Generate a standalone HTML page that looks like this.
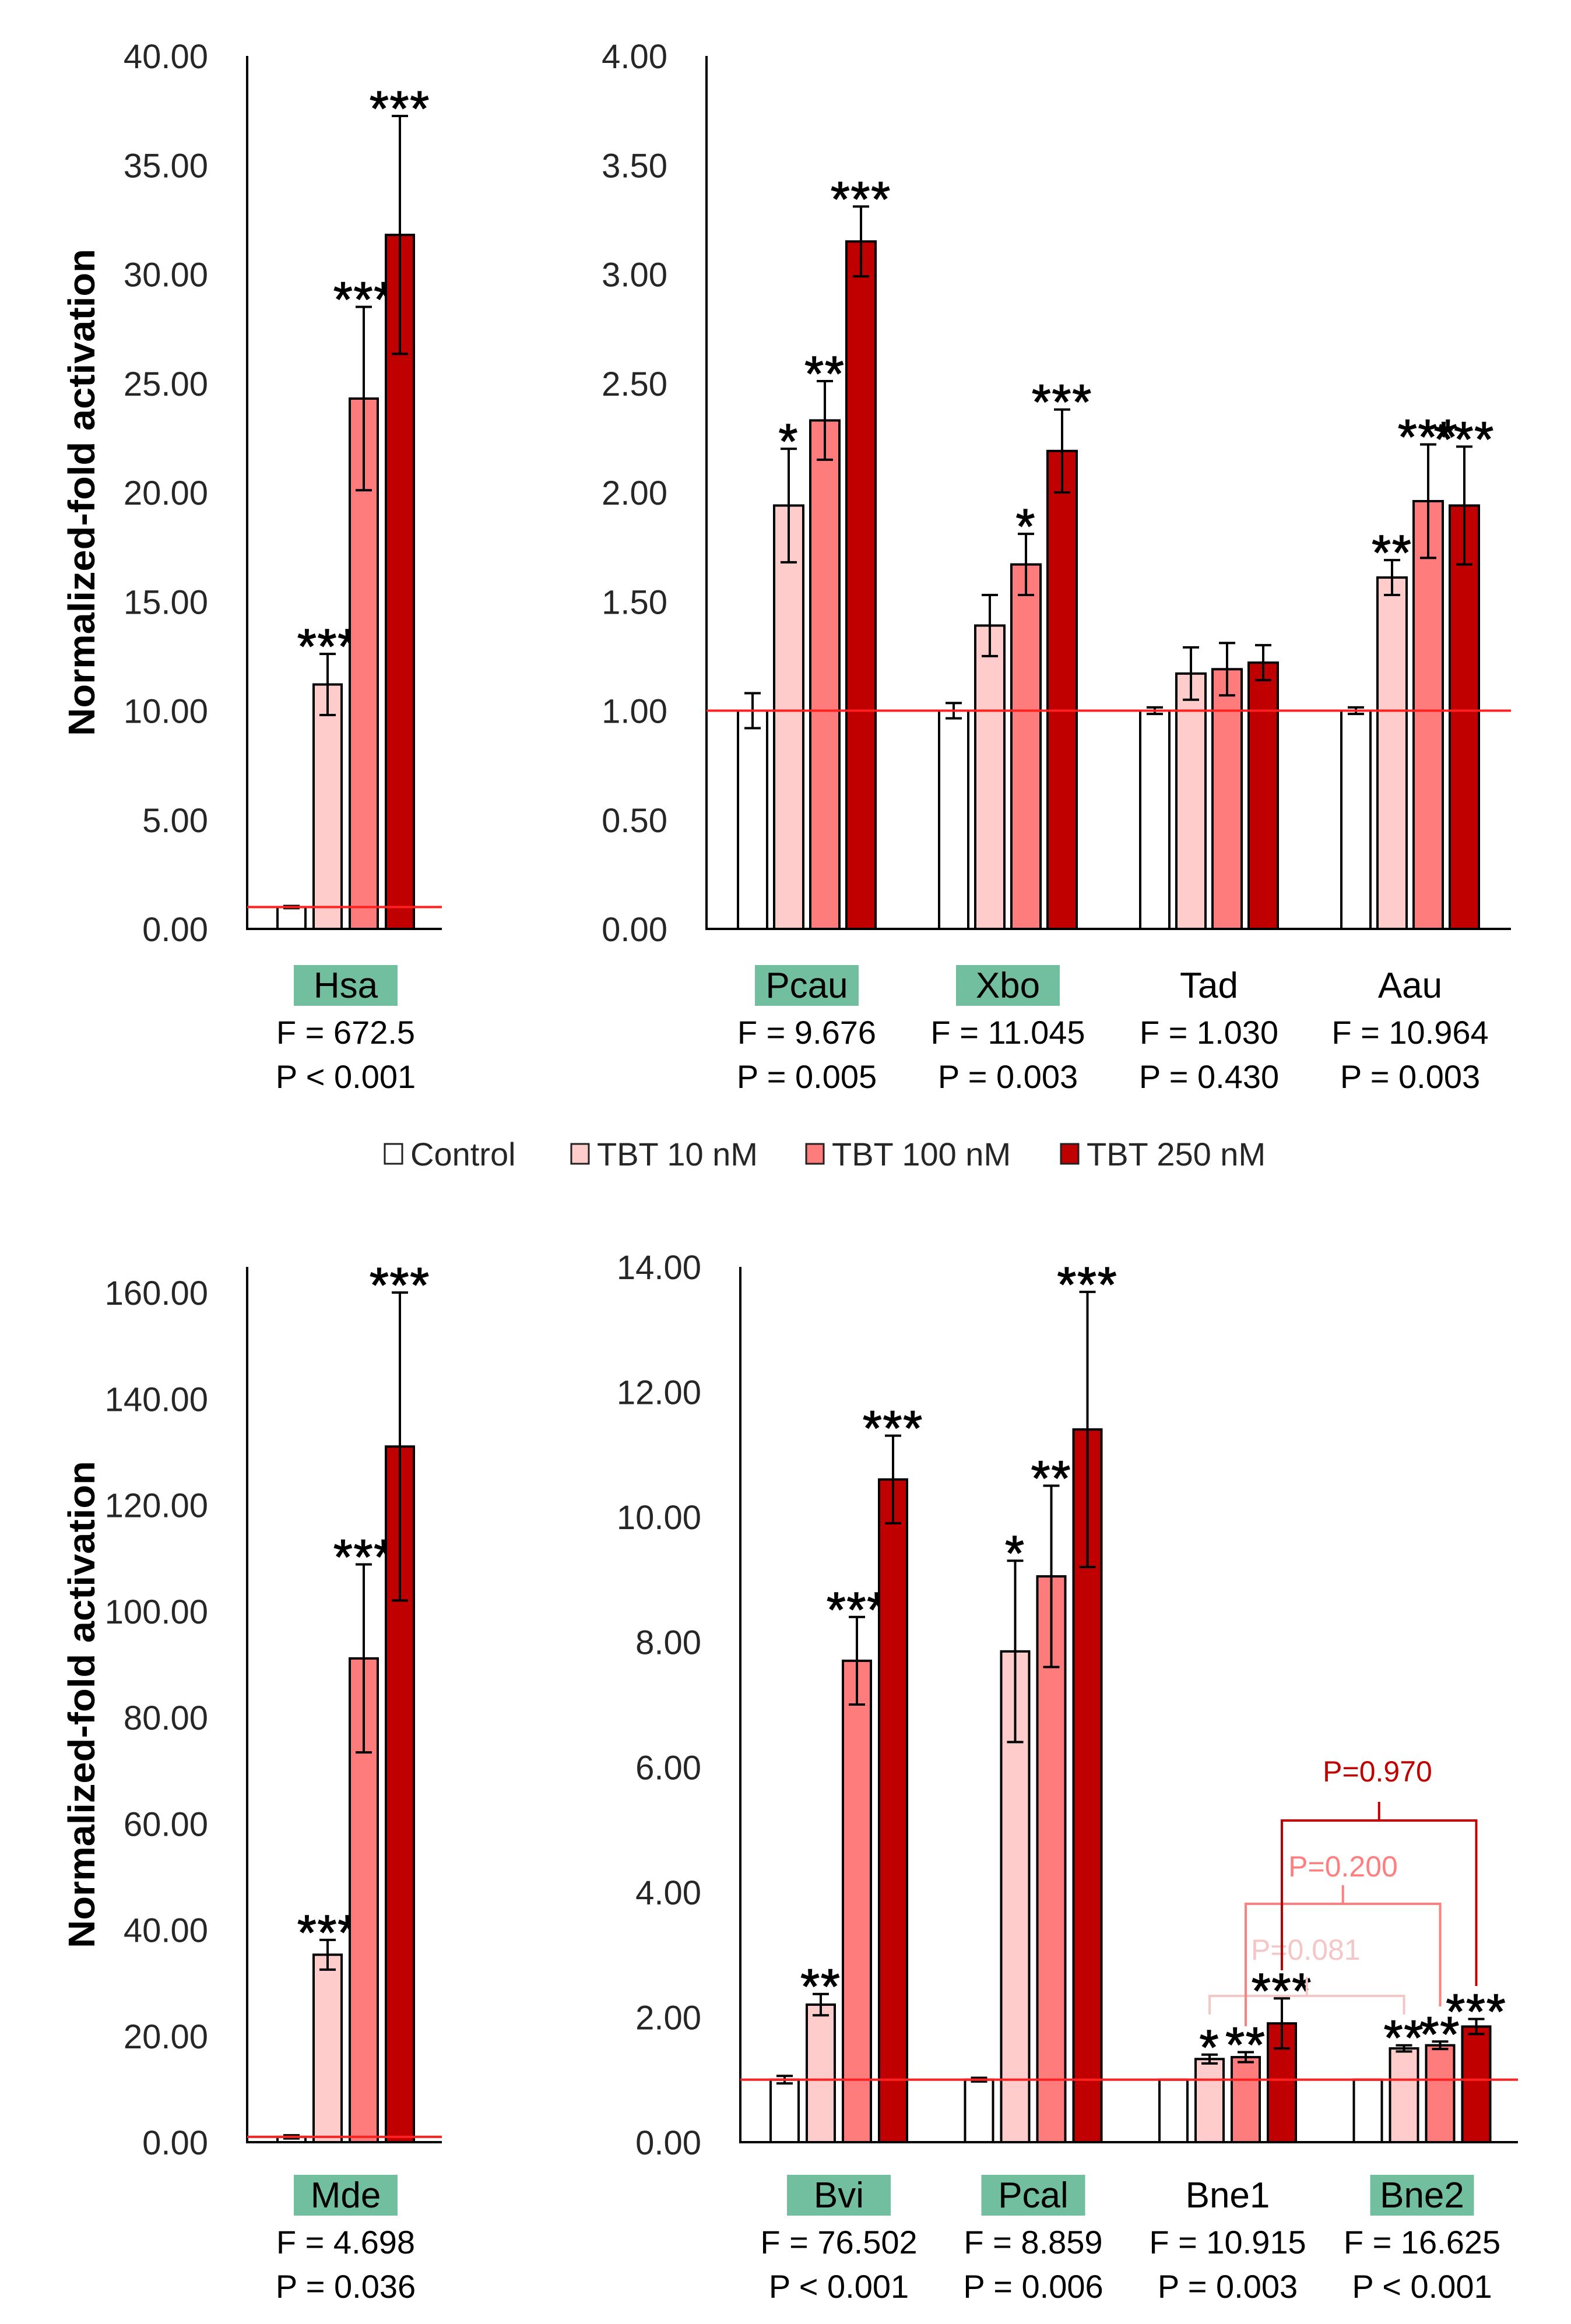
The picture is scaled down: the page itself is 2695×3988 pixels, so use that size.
<!DOCTYPE html>
<html><head><meta charset="utf-8">
<style>
html,body{margin:0;padding:0;background:#fff;}
svg{display:block;font-family:"Liberation Sans",sans-serif;}
</style></head>
<body>
<svg id="fig" xmlns="http://www.w3.org/2000/svg" width="2695" height="3988" viewBox="0 0 2695 3988"></svg>
<script>
// ---- data ----
const tlCategories = ['Hsa'];
const tlControl = [1.0];
const tlTBT10 = [11.2];
const tlTBT100 = [24.3];
const tlTBT250 = [31.8];
const tlErrControl = [0.05];
const tlErr10 = [1.4];
const tlErr100 = [4.2];
const tlErr250 = [5.45];
const tlStars = [['', '***', '***', '***']];
const tlF = ['F = 672.5'];
const tlP = ['P < 0.001'];
const tlHighlight = [true];
const tlTicks = ['0.00','5.00','10.00','15.00','20.00','25.00','30.00','35.00','40.00'];

const trCategories = ['Pcau','Xbo','Tad','Aau'];
const trControl = [1.0, 1.0, 1.0, 1.0];
const trTBT10 = [1.94, 1.39, 1.17, 1.61];
const trTBT100 = [2.33, 1.67, 1.19, 1.96];
const trTBT250 = [3.15, 2.19, 1.22, 1.94];
const trErrControl = [0.08, 0.035, 0.015, 0.015];
const trErr10 = [0.26, 0.14, 0.12, 0.08];
const trErr100 = [0.18, 0.14, 0.12, 0.26];
const trErr250 = [0.16, 0.19, 0.08, 0.27];
const trStars = [['','*','**','***'],['','','*','***'],['','','',''],['','**','***','***']];
const trF = ['F = 9.676','F = 11.045','F = 1.030','F = 10.964'];
const trP = ['P = 0.005','P = 0.003','P = 0.430','P = 0.003'];
const trHighlight = [true, true, false, false];
const trTicks = ['0.00','0.50','1.00','1.50','2.00','2.50','3.00','3.50','4.00'];

const blCategories = ['Mde'];
const blControl = [1.0];
const blTBT10 = [35.3];
const blTBT100 = [91.1];
const blTBT250 = [131];
const blErrControl = [0.3];
const blErr10 = [2.8];
const blErr100 = [17.7];
const blErr250 = [29];
const blStars = [['', '***', '***', '***']];
const blF = ['F = 4.698'];
const blP = ['P = 0.036'];
const blHighlight = [true];
const blTicks = ['0.00','20.00','40.00','60.00','80.00','100.00','120.00','140.00','160.00'];

const brCategories = ['Bvi','Pcal','Bne1','Bne2'];
const brControl = [1.0, 1.0, 1.0, 1.0];
const brTBT10 = [2.2, 7.85, 1.33, 1.5];
const brTBT100 = [7.7, 9.05, 1.36, 1.55];
const brTBT250 = [10.6, 11.4, 1.9, 1.85];
const brErrControl = [0.06, 0.03, 0.0, 0.0];
const brErr10 = [0.17, 1.45, 0.07, 0.05];
const brErr100 = [0.7, 1.45, 0.08, 0.06];
const brErr250 = [0.7, 2.2, 0.4, 0.12];
const brStars = [['','**','***','***'],['','*','**','***'],['','*','**','***'],['','**','**','***']];
const brF = ['F = 76.502','F = 8.859','F = 10.915','F = 16.625'];
const brP = ['P < 0.001','P = 0.006','P = 0.003','P < 0.001'];
const brHighlight = [true, true, false, true];
const brTicks = ['0.00','2.00','4.00','6.00','8.00','10.00','12.00','14.00'];

const compLabels = ['P=0.081','P=0.200','P=0.970'];
const compSeries = [1, 2, 3];
const legendLabels = ['Control','TBT 10 nM','TBT 100 nM','TBT 250 nM'];

// ---- drawing ----
const NS = 'http://www.w3.org/2000/svg';
const svg = document.getElementById('fig');
const fills = ['#ffffff','#ffcccc','#ff7c7c','#c00000'];
const compColors = ['#f5c6c6','#ff7f7f','#c00000'];
function el(tag, attrs, parent){
  const e = document.createElementNS(NS, tag);
  for (const k in attrs) e.setAttribute(k, attrs[k]);
  (parent||svg).appendChild(e);
  return e;
}

function panel(cfg, cats, means, errs, stars, F, P, hl, ticks, name){
  const g = el('g', {});
  
  
  const tickMaxVal = cfg.tickStep * (ticks.length - 1);
  const y = v => cfg.y0 - v * (cfg.y0 - cfg.yTickTop) / tickMaxVal;
  const groupW = (cfg.x1 - cfg.x0) / cats.length;
  const barX = (c, s) => cfg.x0 + c * groupW + cfg.off + s * cfg.pitch;
  ticks.forEach((t, i) => {
    const tx = el('text', {x: cfg.x0 - 67, y: y(i * cfg.tickStep) + 21, 'text-anchor': 'end', 'font-size': 58, fill: '#262626'}, g);
    tx.textContent = t;
    
    
  });
  cats.forEach((c, ci) => {
    for (let s = 0; s < 4; s++) {
      const v = means[s][ci];
      const bx = barX(ci, s);
      const r = el('rect', {x: bx, y: y(v), width: cfg.bw, height: cfg.y0 - y(v), fill: fills[s], stroke: '#000', 'stroke-width': 4}, g);
      
      
      const e = errs[s][ci];
      const cx = bx + cfg.bw / 2;
      if (e > 0) {
        const eb = el('path', {d: `M${cx},${y(v+e)}V${y(v-e)}M${cx-14},${y(v+e)}h28M${cx-14},${y(v-e)}h28`, stroke: '#000', 'stroke-width': 4, fill: 'none'}, g);
        
        
      }
      const st = stars[ci][s];
      if (st) {
        const t = el('text', {x: cx, y: y(v + e) + 16, 'text-anchor': 'middle', 'font-size': 84, 'letter-spacing': 2, fill: '#000', stroke: '#000', 'stroke-width': 1.5}, g);
        t.textContent = st;
        
        
      }
    }
    const gc = cfg.x0 + ci * groupW + cfg.off + (3 * cfg.pitch + cfg.bw) / 2;
    if (hl[ci]) {
      const hb = el('rect', {x: gc - 89, y: cfg.labY - 34, width: 178, height: 70, fill: '#72bf9f'}, g);
      
      
    }
    const lt = el('text', {x: gc, y: cfg.labY + 22, 'text-anchor': 'middle', 'font-size': 62, fill: '#000'}, g);
    lt.textContent = c;
    
    
    const ft = el('text', {x: gc, y: cfg.labY + 101, 'text-anchor': 'middle', 'font-size': 56, fill: '#000'}, g);
    ft.textContent = F[ci];
    
    
    const pt = el('text', {x: gc, y: cfg.labY + 177, 'text-anchor': 'middle', 'font-size': 56, fill: '#000'}, g);
    pt.textContent = P[ci];
    
    
  });
  const ax = el('path', {d: `M${cfg.x0},${cfg.yTop}V${cfg.y0}H${cfg.x1}`, stroke: '#000', 'stroke-width': 4, fill: 'none'}, g);
  
  
  const rl = el('line', {x1: cfg.x0, x2: cfg.x1, y1: y(1), y2: y(1), stroke: '#ff2020', 'stroke-width': 4}, g);
  
  
  return {y, barX};
}

const tl = panel({x0:424,x1:758,y0:1594,yTickTop:96,yTop:96,tickStep:5,off:52,pitch:62,bw:48,labY:1690},
  tlCategories,[tlControl,tlTBT10,tlTBT100,tlTBT250],[tlErrControl,tlErr10,tlErr100,tlErr250],tlStars,tlF,tlP,tlHighlight,tlTicks,'top-left');
const tr = panel({x0:1212,x1:2592,y0:1594,yTickTop:96,yTop:96,tickStep:0.5,off:54,pitch:62,bw:50,labY:1690},
  trCategories,[trControl,trTBT10,trTBT100,trTBT250],[trErrControl,trErr10,trErr100,trErr250],trStars,trF,trP,trHighlight,trTicks,'top-right');
const bl = panel({x0:424,x1:758,y0:3676,yTickTop:2218,yTop:2174,tickStep:20,off:52,pitch:62,bw:48,labY:3766},
  blCategories,[blControl,blTBT10,blTBT100,blTBT250],[blErrControl,blErr10,blErr100,blErr250],blStars,blF,blP,blHighlight,blTicks,'bottom-left');
const br = panel({x0:1270,x1:2604,y0:3676,yTickTop:2174,yTop:2174,tickStep:2,off:52,pitch:62,bw:48,labY:3766},
  brCategories,[brControl,brTBT10,brTBT100,brTBT250],[brErrControl,brErr10,brErr100,brErr250],brStars,brF,brP,brHighlight,brTicks,'bottom-right');

const brackH = [3425, 3267, 3124];
const brackText = [[2146,3363,'start'],[2304,3220,'middle'],[2363,3057,'middle']];
compSeries.forEach((s, i) => {
  const xa = br.barX(2, s) + 24, xb = br.barX(3, s) + 24;
  const hy = brackH[i];
  const ya = [3457, 3477, 3381][i], yb = [3457, 3443, 3408][i];
  const mid = (xa + xb) / 2;
  const p = el('path', {d: `M${xa},${ya}V${hy}H${xb}V${yb}M${mid},${hy}v-32`, stroke: compColors[i], 'stroke-width': 4, fill: 'none'});
  
  
  const t = el('text', {x: brackText[i][0], y: brackText[i][1], 'text-anchor': brackText[i][2], 'font-size': 50, fill: compColors[i]});
  t.textContent = compLabels[i];
  
  
});

[845, 2925].forEach(cy => {
  const t = el('text', {x: 0, y: 0, transform: `translate(162,${cy}) rotate(-90)`, 'text-anchor': 'middle', 'font-size': 64, 'font-weight': 'bold', fill: '#000', textLength: 836, lengthAdjust: 'spacingAndGlyphs'});
  t.textContent = 'Normalized-fold activation';
  
  
});

const legBoxX = [660, 980, 1383, 1820];
legendLabels.forEach((lab, i) => {
  const b = el('rect', {x: legBoxX[i], y: 1963, width: 30, height: 34, fill: fills[i], stroke: '#222', 'stroke-width': 3});
  
  
  const t = el('text', {x: legBoxX[i] + 44, y: 2000, 'font-size': 56, fill: '#262626'});
  t.textContent = lab;
  
  
});
</script>
</body></html>
